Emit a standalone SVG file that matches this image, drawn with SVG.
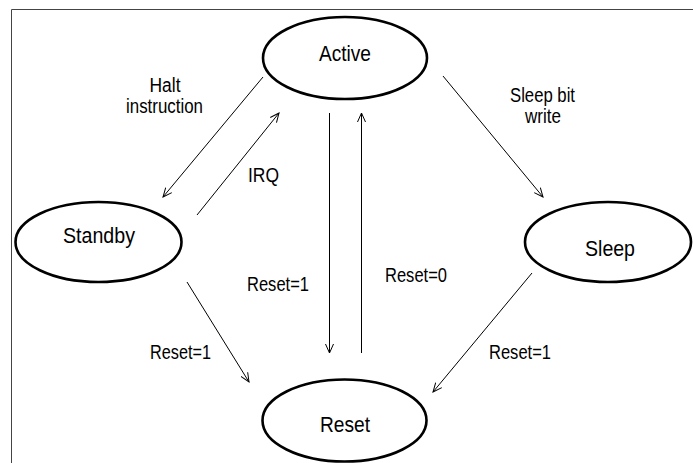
<svg xmlns="http://www.w3.org/2000/svg" width="693" height="463" viewBox="0 0 693 463">
<style>
.node{fill:#fff;stroke:#000;stroke-width:2.6}
.nl{font-family:"Liberation Sans",Arial,sans-serif;font-size:22px;fill:#000;text-anchor:middle}
.el{font-family:"Liberation Sans",Arial,sans-serif;font-size:19.5px;fill:#000}
.edge{stroke:#000;stroke-width:1;fill:none;marker-end:url(#arr)}
.frame{stroke:#444;stroke-width:1;fill:none}
</style>
<defs>
<marker id="arr" markerUnits="userSpaceOnUse" markerWidth="12" markerHeight="10" refX="9" refY="4" orient="auto" viewBox="0 0 12 8">
<path d="M0,0 L9,4 L0,8" fill="none" stroke="#000" stroke-width="1"/>
</marker>
</defs>
<rect width="693" height="463" fill="#fff"/>
<path class="frame" d="M11.5,463 V9.5 H693"/>
<g id="connectors">
<line class="edge" x1="263" y1="77" x2="163" y2="197"/>
<line class="edge" x1="197" y1="215" x2="279" y2="113"/>
<line class="edge" x1="443" y1="76" x2="543" y2="197"/>
<line class="edge" x1="329.5" y1="113" x2="329.5" y2="353"/>
<line class="edge" x1="361.5" y1="353" x2="361.5" y2="113"/>
<line class="edge" x1="187" y1="282" x2="249" y2="382"/>
<line class="edge" x1="532" y1="273" x2="433" y2="392"/>
<text class="el" x="165" y="92" text-anchor="middle" textLength="31" lengthAdjust="spacingAndGlyphs">Halt</text>
<text class="el" x="164.5" y="113" text-anchor="middle" textLength="77" lengthAdjust="spacingAndGlyphs">instruction</text>
<text class="el" x="248" y="182" textLength="31" lengthAdjust="spacingAndGlyphs">IRQ</text>
<text class="el" x="510" y="102" textLength="65" lengthAdjust="spacingAndGlyphs">Sleep bit</text>
<text class="el" x="525" y="123" textLength="36" lengthAdjust="spacingAndGlyphs">write</text>
<text class="el" x="247" y="291" textLength="62" lengthAdjust="spacingAndGlyphs">Reset=1</text>
<text class="el" x="385" y="282" textLength="62" lengthAdjust="spacingAndGlyphs">Reset=0</text>
<text class="el" x="150" y="359" textLength="61" lengthAdjust="spacingAndGlyphs">Reset=1</text>
<text class="el" x="489" y="359" textLength="62" lengthAdjust="spacingAndGlyphs">Reset=1</text>
</g>
<g id="active">
<ellipse class="node" cx="345" cy="58" rx="82" ry="41"/>
<text class="nl" x="345" y="61" textLength="52" lengthAdjust="spacingAndGlyphs">Active</text>
</g>
<g id="standby">
<ellipse class="node" cx="98.5" cy="242" rx="83" ry="40"/>
<text class="nl" x="99" y="243" textLength="72" lengthAdjust="spacingAndGlyphs">Standby</text>
</g>
<g id="sleep">
<ellipse class="node" cx="608" cy="242" rx="83" ry="40"/>
<text class="nl" x="610" y="256" textLength="50" lengthAdjust="spacingAndGlyphs">Sleep</text>
</g>
<g id="reset">
<ellipse class="node" cx="344.5" cy="420.5" rx="82" ry="41"/>
<text class="nl" x="345" y="432" textLength="50" lengthAdjust="spacingAndGlyphs">Reset</text>
</g>
</svg>
